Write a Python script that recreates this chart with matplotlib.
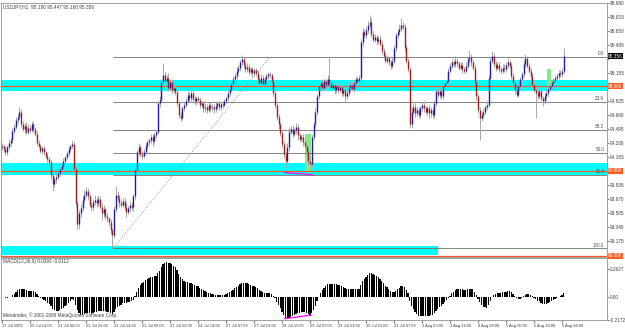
import numpy as np
import pandas as pd
import matplotlib
matplotlib.use('Agg')
import matplotlib.pyplot as plt
from matplotlib.patches import Rectangle
import matplotlib.transforms as mtransforms

# USDJPY H1, 17 Jul 2009 22:00 .. 6 Aug 2009 09:00, one close per hour
first_open = 94.28
closes = [
    94.30, 94.26, 94.22, 94.28, 94.33, 94.36, 94.47, 94.52, 94.60, 94.64, 94.70, 94.55, 94.50, 94.53, 94.46, 94.51,
    94.48, 94.55, 94.50, 94.44, 94.33, 94.30, 94.24, 94.27, 94.22, 94.18, 94.14, 94.10, 93.95, 93.84, 93.90, 93.93,
    93.97, 94.02, 94.06, 94.12, 94.16, 94.21, 94.26, 94.30, 94.32, 94.02, 93.62, 93.37, 93.50, 93.56, 93.66, 93.72,
    93.76, 93.70, 93.60, 93.57, 93.63, 93.66, 93.62, 93.67, 93.58, 93.50, 93.55, 93.47, 93.44, 93.40, 93.30, 93.24,
    93.55, 93.72, 93.68, 93.62, 93.60, 93.65, 93.58, 93.52, 93.56, 93.60, 93.57, 93.70, 94.01, 94.22, 94.28, 94.20,
    94.18, 94.22, 94.30, 94.34, 94.36, 94.40, 94.35, 94.42, 94.46, 94.80, 94.84, 95.05, 95.13, 95.06, 95.10, 94.98,
    95.05, 94.95, 94.98, 94.93, 94.80, 94.66, 94.63, 94.74, 94.78, 94.83, 94.90, 94.86, 94.92, 94.85, 94.82, 94.86,
    94.84, 94.78, 94.80, 94.74, 94.76, 94.72, 94.78, 94.74, 94.76, 94.73, 94.77, 94.80, 94.75, 94.79, 94.78, 94.82,
    94.86, 94.92, 94.97, 95.03, 95.08, 95.12, 95.18, 95.21, 95.28, 95.32, 95.25, 95.20, 95.23, 95.17, 95.20, 95.15,
    95.19, 95.16, 95.08, 95.04, 95.10, 95.03, 95.08, 95.12, 95.14, 95.13, 95.06, 94.92, 94.78, 94.64, 94.55, 94.45,
    94.32, 94.20, 94.12, 94.28, 94.46, 94.50, 94.44, 94.48, 94.52, 94.42, 94.38, 94.40, 94.34, 94.30, 94.22, 94.12,
    94.08, 94.40, 94.55, 94.70, 94.88, 95.00, 95.04, 94.98, 95.06, 95.02, 95.08, 95.04, 94.98, 95.01, 94.95, 95.00,
    94.96, 94.99, 94.92, 94.95, 94.88, 94.92, 94.98, 95.02, 94.97, 95.04, 95.08, 95.06, 95.10, 95.52, 95.64, 95.60,
    95.66, 95.72, 95.76, 95.62, 95.55, 95.58, 95.53, 95.56, 95.50, 95.42, 95.36, 95.30, 95.33, 95.28, 95.24, 95.30,
    95.45, 95.60, 95.64, 95.68, 95.72, 95.70, 95.46, 95.30, 95.20, 94.55, 94.70, 94.76, 94.68, 94.72, 94.66, 94.74,
    94.78, 94.74, 94.70, 94.74, 94.68, 94.72, 94.66, 94.80, 94.94, 94.90, 94.94, 94.88, 95.00, 95.04, 95.06, 95.18,
    95.24, 95.28, 95.26, 95.30, 95.27, 95.22, 95.25, 95.20, 95.18, 95.24, 95.32, 95.35, 95.28, 95.22, 95.05, 94.88,
    94.72, 94.62, 94.66, 94.70, 94.75, 94.78, 95.10, 95.30, 95.36, 95.26, 95.22, 95.25, 95.20, 95.18, 95.22, 95.20,
    95.25, 95.28, 95.24, 95.12, 95.04, 94.95, 94.90, 95.00, 95.08, 95.14, 95.26, 95.33, 95.24, 95.18, 95.12, 95.02,
    94.96, 94.92, 94.88, 94.94, 94.86, 94.82, 94.88, 94.92, 94.97, 95.00, 95.04, 95.06, 95.10, 95.12, 95.16, 95.14,
    95.18, 95.356,
]
# wick lengths in pips
upper_wick = [
    3, 2, 4, 3, 5, 3, 4, 3, 4, 3, 6, 3, 4, 3, 5, 4,
    3, 4, 3, 2, 3, 4, 2, 3, 3, 2, 3, 2, 3, 4, 3, 3,
    2, 3, 2, 3, 2, 3, 3, 2, 5, 3, 4, 3, 4, 5, 4, 6,
    5, 4, 3, 3, 4, 6, 3, 4, 3, 4, 5, 3, 3, 2, 3, 3,
    4, 10, 4, 3, 4, 3, 3, 4, 3, 4, 3, 3, 4, 3, 5, 3,
    3, 4, 3, 2, 3, 3, 4, 3, 2, 3, 4, 4, 14, 4, 3, 5,
    4, 3, 4, 3, 3, 2, 3, 3, 4, 3, 4, 3, 5, 3, 3, 3,
    3, 3, 2, 3, 4, 3, 3, 2, 3, 3, 4, 3, 3, 2, 3, 3,
    3, 4, 3, 3, 4, 3, 5, 4, 3, 5, 3, 3, 4, 3, 3, 3,
    3, 2, 3, 3, 4, 3, 3, 4, 3, 3, 2, 3, 3, 2, 3, 3,
    3, 3, 2, 5, 6, 3, 4, 3, 4, 3, 3, 4, 3, 3, 2, 3,
    3, 4, 3, 4, 3, 4, 3, 4, 3, 3, 5, 27, 3, 4, 3, 4,
    3, 3, 4, 3, 3, 4, 3, 4, 3, 3, 4, 3, 3, 4, 5, 4,
    4, 5, 8, 4, 3, 4, 3, 3, 4, 3, 3, 3, 4, 3, 3, 4,
    4, 3, 4, 5, 8, 4, 3, 3, 3, 3, 4, 3, 4, 3, 4, 3,
    3, 4, 3, 3, 4, 3, 3, 4, 3, 4, 3, 4, 3, 3, 3, 4,
    3, 4, 3, 6, 3, 3, 4, 3, 3, 4, 3, 8, 3, 3, 3, 3,
    3, 3, 4, 3, 3, 4, 3, 4, 5, 3, 4, 3, 3, 3, 4, 4,
    4, 6, 3, 3, 3, 3, 3, 4, 3, 3, 4, 5, 3, 3, 3, 3,
    3, 3, 3, 3, 3, 3, 4, 3, 3, 3, 3, 4, 3, 3, 3, 3,
    3, 9,
]
lower_wick = [
    3, 4, 3, 3, 2, 3, 3, 4, 3, 3, 3, 4, 3, 5, 3, 3,
    3, 2, 4, 3, 4, 3, 3, 4, 3, 3, 4, 3, 5, 8, 3, 4,
    3, 3, 4, 3, 3, 2, 3, 3, 3, 4, 5, 6, 5, 4, 3, 3,
    3, 4, 3, 4, 3, 3, 4, 3, 3, 8, 4, 5, 4, 5, 4, 15,
    3, 4, 3, 4, 3, 3, 4, 6, 3, 4, 3, 4, 3, 4, 3, 4,
    4, 3, 3, 4, 3, 3, 5, 3, 3, 3, 4, 3, 4, 3, 3, 4,
    3, 4, 3, 3, 3, 4, 4, 3, 3, 3, 3, 4, 3, 3, 3, 4,
    3, 4, 3, 4, 5, 4, 3, 4, 3, 5, 3, 4, 3, 3, 4, 3,
    3, 3, 3, 3, 3, 4, 3, 3, 3, 3, 4, 3, 3, 4, 3, 4,
    3, 4, 5, 6, 3, 7, 4, 3, 3, 3, 4, 3, 4, 4, 5, 4,
    4, 5, 8, 3, 4, 3, 4, 3, 4, 5, 4, 3, 4, 3, 4, 5,
    4, 3, 3, 3, 4, 3, 3, 4, 3, 4, 3, 3, 4, 3, 4, 3,
    4, 3, 4, 3, 6, 3, 3, 4, 3, 4, 3, 3, 3, 3, 4, 3,
    3, 3, 3, 4, 3, 3, 4, 3, 3, 4, 3, 3, 3, 3, 4, 3,
    3, 3, 3, 3, 3, 3, 4, 3, 3, 3, 4, 3, 4, 3, 4, 3,
    3, 4, 3, 4, 5, 4, 4, 4, 3, 3, 4, 3, 3, 3, 3, 3,
    3, 3, 3, 3, 4, 3, 3, 4, 3, 3, 3, 3, 4, 3, 4, 4,
    4, 25, 3, 3, 3, 3, 3, 3, 3, 3, 4, 3, 3, 4, 3, 3,
    3, 3, 3, 3, 3, 4, 3, 3, 3, 3, 3, 3, 3, 3, 3, 4,
    3, 29, 3, 3, 4, 5, 3, 3, 3, 3, 3, 3, 3, 3, 3, 3,
    3, 2,
]

time_labels = ['17 Jul 2009', '20 Jul 14:00', '21 Jul 06:00', '21 Jul 22:00', '22 Jul 14:00',
               '23 Jul 06:00', '23 Jul 22:00', '24 Jul 14:00', '27 Jul 07:00', '27 Jul 23:00',
               '28 Jul 15:00', '29 Jul 07:00', '29 Jul 23:00', '30 Jul 15:00', '31 Jul 07:00',
               '3 Aug 00:00', '3 Aug 16:00', '4 Aug 08:00', '5 Aug 00:00', '5 Aug 16:00', '6 Aug 08:00']
label_step = 16

# drawn objects on the chart
zone_upper = (94.944, 95.074)
zone_lower = (93.953, 94.089)
zone_bottom = (93.010, 93.116, 249)
level_lines = [95.00, 94.00, 93.00]
fib_low = (63.4, 93.085)
fib_high = (153.0, 95.345)
fib_levels = [0.0, 23.6, 38.2, 50.0, 61.8, 100.0]
green_boxes = [(173.0, 176.6, 93.99, 94.44), (311.4, 313.7, 94.956, 95.203)]
div_price = ([161.7, 177.7], [93.98, 93.955])
div_macd = ([161.7, 176.6], [-0.205, -0.170])
last_close = 95.356

price_ticks = [93.010 + 0.165 * k for k in range(19)]
hidden_ticks = [93.010, 94.000, 94.990, 95.320]   # covered by the price boxes

plt.rcParams['font.family'] = ['Liberation Sans', 'DejaVu Sans']
fig = plt.figure(figsize=(6.25, 3.3), dpi=100)
ax = fig.add_axes([1 / 625, 73.5 / 330, 606 / 625, 253.5 / 330])
ax2 = fig.add_axes([1 / 625, 10 / 330, 606 / 625, 62.5 / 330], sharex=ax)

o = np.array([first_open] + closes[:-1])
c = np.array(closes)
hi = np.maximum(o, c) + np.array(upper_wick) / 100
lo = np.minimum(o, c) - np.array(lower_wick) / 100
idx = np.arange(len(c))
xmax = 345.7
fs = 3.4

# zones and levels
ax.axhspan(*zone_upper, color='#00ffff', lw=0, zorder=1)
ax.axhspan(*zone_lower, color='#00ffff', lw=0, zorder=1)
ax.add_patch(Rectangle((-1, zone_bottom[0]), zone_bottom[2] + 1, zone_bottom[1] - zone_bottom[0],
                       color='#00ffff', lw=0, zorder=1))
for g in green_boxes:
    ax.add_patch(Rectangle((g[0], g[2]), g[1] - g[0], g[3] - g[2], color='#88e888', lw=0, zorder=1))

rng = fib_high[1] - fib_low[1]
for lv in fib_levels:
    p = fib_high[1] - rng * lv / 100
    ax.hlines(p, fib_low[0], xmax, color='#707070', lw=0.6, zorder=2)
    ax.text(xmax - 1.5, p + 0.01, '%.1f' % lv, fontsize=3.3, color='#505050', ha='right', va='bottom', zorder=6)
ax.plot([fib_low[0], fib_high[0]], [fib_low[1], fib_high[1]], color='#808080', lw=0.6,
        ls=(0, (1, 2)), zorder=2)
ax.hlines(level_lines, -1, xmax, color='#ff5a1e', lw=0.9, zorder=3)

# candles
ax.vlines(idx, lo, hi, color='#a8a8a8', lw=0.7, zorder=4)
up = c >= o
ax.vlines(idx[up], o[up], c[up], color='#1c1c9c', lw=1.0, zorder=5)
ax.vlines(idx[~up], c[~up], o[~up], color='#a01c1c', lw=1.0, zorder=5)
ax.plot(div_price[0], div_price[1], color='#ff00ff', lw=0.9, zorder=6)

ax.set_xlim(-0.57, xmax)
ax.set_ylim(92.99, 95.982)
ax.yaxis.tick_right()
ax.set_yticks(price_ticks)
ax.set_yticklabels(['' if any(abs(t - h) < 1e-6 for h in hidden_ticks) else '%.3f' % t
                    for t in price_ticks])
ax.tick_params(axis='y', labelsize=fs, length=1.5, width=0.5, pad=0.5, colors='#404040')
ax.tick_params(axis='x', bottom=False, labelbottom=False)
for s in ax.spines.values():
    s.set_color('#909090')
    s.set_linewidth(0.6)

ytr = mtransforms.blended_transform_factory(ax.transAxes, ax.transData)
for lv, txt, col in [(95.00, '95.000', '#ff5a1e'), (94.00, '94.000', '#ff5a1e'),
                     (93.00, '93.000', '#ff5a1e'), (last_close, '%.3f' % last_close, 'black')]:
    ax.text(1.002, lv, txt, transform=ytr, fontsize=fs, color='white', va='center', ha='left',
            bbox=dict(boxstyle='square,pad=0.1', fc=col, ec='none'), zorder=10, clip_on=False)

ax.text(0.004, 0.995, 'USDJPY,H1  95.180 95.447 95.160 95.356', transform=ax.transAxes,
        fontsize=fs, color='#404040', va='top', ha='left')

# MACD(12,26,9)
s = pd.Series(closes)
macd = s.ewm(span=12, adjust=False).mean() - s.ewm(span=26, adjust=False).mean()
ax2.bar(idx, macd.values, width=0.62, color='black', lw=0)
ax2.plot(div_macd[0], div_macd[1], color='#ff00ff', lw=0.9)
ax2.set_ylim(-0.2172, 0.375)
ax2.yaxis.tick_right()
ax2.set_yticks([0.2627, 0.0, -0.2172])
ax2.set_yticklabels(['0.2627', '0.00', '-0.2172'])
ax2.tick_params(axis='y', labelsize=fs, length=1.5, width=0.5, pad=0.5, colors='#404040')
ax2.set_xticks(np.arange(len(time_labels)) * label_step)
ax2.set_xticklabels(time_labels, ha='left')
ax2.tick_params(axis='x', labelsize=2.9, length=2, width=0.5, pad=1, colors='#404040')
for s_ in ax2.spines.values():
    s_.set_color('#909090')
    s_.set_linewidth(0.6)
ax2.text(0.004, 0.97, 'MACD(12,26,9) 0.0393 -0.0112', transform=ax2.transAxes,
         fontsize=fs, color='#404040', va='top', ha='left')
ax2.text(0.004, 0.03, 'Metatrader, © 2001-2008 MetaQuotes Software Corp.', transform=ax2.transAxes,
         fontsize=fs, color='#404040', va='bottom', ha='left')

fig.savefig('out.png', dpi=100)
